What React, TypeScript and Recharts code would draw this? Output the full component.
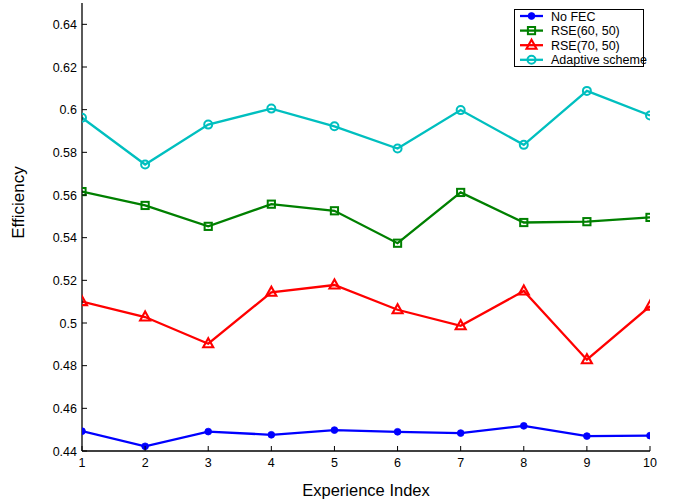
import React from 'react';
import { LineChart, Line, XAxis, YAxis, Legend } from 'recharts';

const experienceIndex = [1, 2, 3, 4, 5, 6, 7, 8, 9, 10];
const noFec = [0.4493, 0.4422, 0.4491, 0.4476, 0.4498, 0.449, 0.4484, 0.4518, 0.447, 0.4472];
const rse6050 = [0.5616, 0.5551, 0.5453, 0.5557, 0.5526, 0.5374, 0.5612, 0.5471, 0.5475, 0.5495];
const rse7050 = [0.51, 0.5028, 0.4903, 0.5144, 0.5178, 0.5062, 0.4987, 0.515, 0.4828, 0.5079];
const adaptive = [0.5962, 0.5743, 0.593, 0.6005, 0.5922, 0.5818, 0.5998, 0.5835, 0.6088, 0.5973];
const yTicks = [0.44, 0.46, 0.48, 0.5, 0.52, 0.54, 0.56, 0.58, 0.6, 0.62, 0.64];
const yDomain = [0.44, 0.65];
const xDomain = [1, 10];
const seriesKeys = ['noFec', 'rse6050', 'rse7050', 'adaptive'];
const seriesNames = ['No FEC', 'RSE(60, 50)', 'RSE(70, 50)', 'Adaptive scheme'];
const seriesColors = ['#0000FF', '#008000', '#FF0000', '#00BFBF'];
const seriesMarkers = ['dot', 'square', 'triangle', 'circle'];

const data = experienceIndex.map((x, i) => ({
  x,
  noFec: noFec[i],
  rse6050: rse6050[i],
  rse7050: rse7050[i],
  adaptive: adaptive[i],
}));

const FONT = '"Liberation Sans", Arial, Helvetica, sans-serif';
const TICK_LEN = 5;
const X_TICK_MARGIN = 7;
const Y_TICK_MARGIN = 5;

const fmt = (v: number) => String(Number(v.toFixed(2)));

function Marker({ kind, cx, cy, color }: { kind: string; cx: number; cy: number; color: string }) {
  if (cx == null || cy == null) return null;
  if (kind === 'dot') return <circle cx={cx} cy={cy} r={3.4} fill={color} stroke={color} strokeWidth={0.8} />;
  if (kind === 'square')
    return <rect x={cx - 3.6} y={cy - 3.6} width={7.2} height={7.2} fill="none" stroke={color} strokeWidth={2} />;
  if (kind === 'triangle')
    return (
      <polygon
        points={`${cx},${cy - 5.5} ${cx - 5},${cy + 3.5} ${cx + 5},${cy + 3.5}`}
        fill="none"
        stroke={color}
        strokeWidth={2.1}
      />
    );
  return <circle cx={cx} cy={cy} r={4} fill="none" stroke={color} strokeWidth={2} />;
}

const makeDot = (kind: string, color: string) => (props: any) => (
  <Marker key={`m-${kind}-${props.index}`} kind={kind} cx={props.cx} cy={props.cy} color={color} />
);

function LeftTick(props: any) {
  const { x, y, payload } = props;
  return (
    <g>
      <text x={x} y={y} dy="0.36em" textAnchor="end" fontSize={12.5} fontFamily={FONT} fill="#000">
        {fmt(payload.value)}
      </text>
      <line x1={x + Y_TICK_MARGIN} y1={y} x2={x + Y_TICK_MARGIN + TICK_LEN} y2={y} stroke="#000" strokeWidth={1} />
    </g>
  );
}

function BottomTick(props: any) {
  const { x, y, payload } = props;
  return (
    <g>
      <text x={x} y={y} dy="0.72em" textAnchor="middle" fontSize={12.5} fontFamily={FONT} fill="#000">
        {payload.value}
      </text>
      <line x1={x} y1={y - X_TICK_MARGIN} x2={x} y2={y - X_TICK_MARGIN - TICK_LEN} stroke="#000" strokeWidth={1} />
    </g>
  );
}

function LegendBox() {
  const rowH = 14.6;
  return (
    <svg width={130} height={58} style={{ overflow: 'visible', display: 'block' }}>
      <rect x={0.5} y={0.5} width={129} height={57} fill="#fff" stroke="#000" strokeWidth={1} />
      {seriesNames.map((name, i) => {
        const cy = 7 + i * rowH;
        return (
          <g key={name}>
            <line x1={6} y1={cy} x2={29} y2={cy} stroke={seriesColors[i]} strokeWidth={2.3} />
            <Marker kind={seriesMarkers[i]} cx={17.5} cy={cy} color={seriesColors[i]} />
            <text x={37} y={cy} dy="0.36em" fontSize={12.5} fontFamily={FONT} fill="#000">
              {name}
            </text>
          </g>
        );
      })}
    </svg>
  );
}

export default function App() {
  return (
    <div style={{ position: 'absolute', left: 0, top: 0, background: '#fff' }}>
      <LineChart width={675} height={502} data={data} margin={{ top: 3, right: 25, left: 0, bottom: 0 }}>
        <XAxis
          xAxisId="b"
          dataKey="x"
          type="number"
          domain={xDomain}
          ticks={experienceIndex}
          allowDataOverflow
          height={51}
          tickLine={false}
          tickSize={0}
          tickMargin={X_TICK_MARGIN}
          axisLine={{ stroke: '#000', strokeWidth: 1.3 }}
          tick={<BottomTick />}
          label={{
            content: (p: any) => (
              <text
                x={p.viewBox.x + p.viewBox.width / 2}
                y={p.viewBox.y + 45}
                textAnchor="middle"
                fontSize={16.5}
                fontFamily={FONT}
                fill="#000"
              >
                Experience Index
              </text>
            ),
          }}
        />
        <XAxis
          xAxisId="t"
          orientation="top"
          dataKey="x"
          type="number"
          domain={xDomain}
          ticks={experienceIndex}
          allowDataOverflow
          height={0}
          mirror
          tickSize={TICK_LEN}
          tickFormatter={() => ''}
          tickLine={{ stroke: '#000' }}
          axisLine={{ stroke: '#000', strokeWidth: 1.3 }}
        />
        <YAxis
          yAxisId="l"
          type="number"
          domain={yDomain}
          ticks={yTicks}
          allowDataOverflow
          width={82}
          tickLine={false}
          tickSize={0}
          tickMargin={Y_TICK_MARGIN}
          axisLine={{ stroke: '#000', strokeWidth: 1.3 }}
          tick={<LeftTick />}
          label={{
            content: () => {
              const cx = 24;
              const cy = 202.5;
              return (
                <text
                  x={cx}
                  y={cy}
                  transform={`rotate(-90, ${cx}, ${cy})`}
                  textAnchor="middle"
                  fontSize={17}
                  fontFamily={FONT}
                  fill="#000"
                >
                  Efficiency
                </text>
              );
            },
          }}
        />
        <YAxis
          yAxisId="r"
          orientation="right"
          type="number"
          domain={yDomain}
          ticks={yTicks}
          allowDataOverflow
          width={0}
          mirror
          tickSize={TICK_LEN}
          tickFormatter={() => ''}
          tickLine={{ stroke: '#000' }}
          axisLine={{ stroke: '#222', strokeWidth: 1.6 }}
        />
        <Legend
          layout="horizontal"
          verticalAlign="middle"
          align="center"
          wrapperStyle={{ top: 9, left: 514, width: 130, height: 58 }}
          content={() => <LegendBox />}
        />
        {seriesKeys.map((k, i) => (
          <Line
            key={k}
            xAxisId="b"
            yAxisId="l"
            type="linear"
            dataKey={k}
            name={seriesNames[i]}
            stroke={seriesColors[i]}
            strokeWidth={2.3}
            dot={makeDot(seriesMarkers[i], seriesColors[i])}
            activeDot={false}
            isAnimationActive={false}
          />
        ))}
      </LineChart>
    </div>
  );
}
